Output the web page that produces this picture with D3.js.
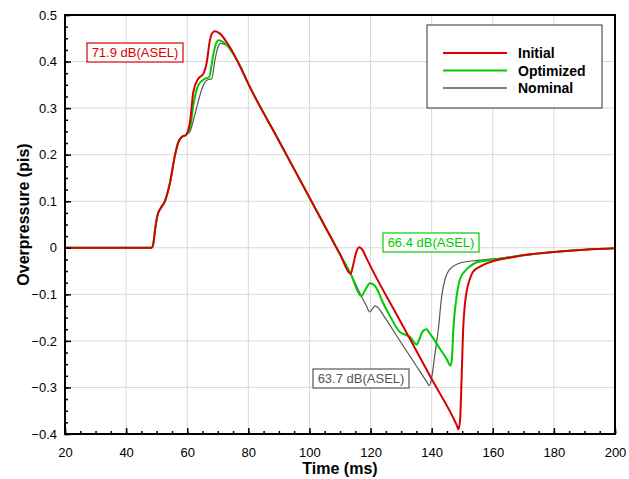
<!DOCTYPE html>
<meta charset="utf-8">
<style>
    body { margin: 0; background: #fff; }
    svg text { font-family: "Liberation Sans", Arial, Helvetica, sans-serif; }
    .line { fill: none; }
    .grid line { stroke: #d9d9d9; stroke-width: 1px; }
    .tick text { font-size: 13px; fill: #000; }
</style>
<body>
<script src="https://cdn.jsdelivr.net/npm/d3@7"></script>
<script>

// ---- data (time in ms, overpressure in pis) ----
var riseCommon = [[20,0],[48.3,0],[48.8,0.005],[49.5,0.04],[50.2,0.068],[51.3,0.085],[52.7,0.1],
    [54.4,0.141],[56,0.199],[57.1,0.227],[58.2,0.238],[59.5,0.242]];

var initialPeak = [[60.9,0.27],[62,0.335],[63.6,0.363],[65.3,0.374],[66.4,0.399],[67.4,0.445],
    [68.3,0.462],[69.1,0.465],[70.7,0.46],[72.9,0.442],[77.3,0.39]];
var optimizedPeak = [[60.9,0.256],[62,0.306],[63.6,0.349],[65.8,0.363],[67.2,0.367],[68.5,0.414],
    [69.5,0.44],[70.3,0.446],[71.8,0.442],[77.3,0.39]];
var nominalPeak = [[60.9,0.25],[63,0.299],[65,0.345],[66.4,0.36],[68,0.363],[69.1,0.404],
    [70,0.43],[70.9,0.439],[72.9,0.435],[77.3,0.39]];

var descentCommon = [[80,0.352],[90,0.23],[100,0.108],[110,-0.014],[113.5,-0.056]];

var initialTail = [[114.2,-0.04],[115.3,-0.01],[116.3,0.001],[117.3,-0.004],[118.5,-0.02],[120,-0.04],
    [130,-0.161],[140,-0.282],[148.2,-0.381],[148.8,-0.39],[149.3,-0.37],[149.8,-0.28],[150.3,-0.175],
    [150.9,-0.12],[151.5,-0.092],[152.5,-0.067],[153.5,-0.052],[156,-0.04],[160,-0.029],[165,-0.022]];
var optimizedTail = [[117,-0.104],[118.3,-0.09],[119.8,-0.076],[121.2,-0.08],[122.5,-0.094],[124,-0.117],
    [126.3,-0.146],[129.6,-0.181],[131.5,-0.187],[133,-0.192],[134.5,-0.205],[135.1,-0.208],[136,-0.196],
    [137,-0.18],[138.2,-0.175],[139.5,-0.185],[142.7,-0.217],[145,-0.24],[146.1,-0.253],[146.6,-0.24],
    [147.1,-0.174],[148.2,-0.103],[149.3,-0.067],[150.9,-0.05],[152.5,-0.04],[154.8,-0.031],
    [160,-0.026],[165,-0.021]];
var nominalTail = [[117,-0.104],[118.5,-0.123],[119.8,-0.138],[120.7,-0.13],[121.5,-0.125],[122.5,-0.129],
    [124,-0.143],[130,-0.204],[135,-0.254],[138.5,-0.289],[139.2,-0.296],[139.9,-0.283],[141,-0.232],
    [142.2,-0.174],[143.3,-0.103],[144.4,-0.067],[145.5,-0.05],[147,-0.04],[150.3,-0.031],[155,-0.027],
    [160,-0.024],[165,-0.02]];

var tailCommon = [[170,-0.016],[180,-0.009],[190,-0.004],[200,-0.001]];

var seriesNames = ["Initial", "Optimized", "Nominal"];
var seriesColors = ["#d90000", "#00cc00", "#555555"];
var aselLabels = ["71.9 dB(ASEL)", "66.4 dB(ASEL)", "63.7 dB(ASEL)"];
var xTicks = [20, 40, 60, 80, 100, 120, 140, 160, 180, 200];
var yTicks = [-0.4, -0.3, -0.2, -0.1, 0, 0.1, 0.2, 0.3, 0.4, 0.5];

var series = [
    riseCommon.concat(initialPeak, descentCommon, initialTail, tailCommon),
    riseCommon.concat(optimizedPeak, descentCommon, optimizedTail, tailCommon),
    riseCommon.concat(nominalPeak, descentCommon, nominalTail, tailCommon)
];

// ---- layout ----
var margin = {top: 15, right: 14, bottom: 45, left: 65},
    width = 629 - margin.left - margin.right,
    height = 479 - margin.top - margin.bottom;

var x = d3.scaleLinear().domain([20, 200]).range([0, width]);
var y = d3.scaleLinear().domain([-0.4, 0.5]).range([height, 0]);

var svg = d3.select("body").append("svg")
    .attr("width", 629)
    .attr("height", 479)
  .append("g")
    .attr("transform", "translate(" + margin.left + "," + margin.top + ")");

// grid
svg.append("g").attr("class", "grid")
    .selectAll("line").data(xTicks.slice(1, -1)).enter().append("line")
    .attr("x1", function (d) { return x(d); }).attr("x2", function (d) { return x(d); })
    .attr("y1", 0).attr("y2", height);
svg.append("g").attr("class", "grid")
    .selectAll("line").data(yTicks.slice(1, -1)).enter().append("line")
    .attr("y1", function (d) { return y(d); }).attr("y2", function (d) { return y(d); })
    .attr("x1", 0).attr("x2", width);

svg.append("defs").append("clipPath").attr("id", "clip")
  .append("rect").attr("width", width).attr("height", height);

// lines (nominal first, initial on top)
var line = d3.line()
    .x(function (d) { return x(d[0]); })
    .y(function (d) { return y(d[1]); })
    .curve(d3.curveMonotoneX);

[2, 1, 0].forEach(function (i) {
    svg.append("path")
        .datum(series[i])
        .attr("class", "line")
        .attr("clip-path", "url(#clip)")
        .attr("stroke", seriesColors[i])
        .attr("stroke-width", i == 2 ? 1.2 : 2)
        .attr("d", line);
});

// axes: ticks point inward
var xMinor = d3.range(20, 201, 5);
var yMinor = d3.range(-0.4, 0.5001, 0.025);

svg.append("g")
    .attr("transform", "translate(0," + height + ")")
    .call(d3.axisBottom(x).tickValues(xMinor).tickSize(-3).tickFormat(""))
    .call(function (g) { g.select(".domain").remove(); });
svg.append("g")
    .attr("transform", "translate(0," + height + ")")
    .call(d3.axisBottom(x).tickValues(xTicks).tickSize(-6).tickPadding(14).tickFormat(d3.format("d")))
    .call(function (g) { g.select(".domain").remove(); });

svg.append("g")
    .call(d3.axisLeft(y).tickValues(yMinor).tickSize(-3).tickFormat(""))
    .call(function (g) { g.select(".domain").remove(); });
svg.append("g")
    .call(d3.axisLeft(y).tickValues(yTicks).tickSize(-6).tickPadding(8)
        .tickFormat(function (d) { return d3.format(".1f")(d).replace("0.0", "0"); }))
    .call(function (g) { g.select(".domain").remove(); });

svg.selectAll(".tick line").attr("stroke", "#000").attr("stroke-width", 1.5);

// frame
svg.append("rect")
    .attr("width", width).attr("height", height)
    .attr("fill", "none").attr("stroke", "#000").attr("stroke-width", 2);

// axis titles
svg.append("text")
    .attr("x", width / 2).attr("y", height + 40)
    .attr("text-anchor", "middle")
    .style("font-size", "16px").style("font-weight", "bold")
    .text("Time (ms)");
svg.append("text")
    .attr("transform", "rotate(-90)")
    .attr("x", -height / 2 + 10).attr("y", -36)
    .attr("text-anchor", "middle")
    .style("font-size", "16px").style("font-weight", "bold")
    .text("Overpressure (pis)");

// ASEL annotations
var notePos = [[22, 28], [318, 218], [248, 354]];
aselLabels.forEach(function (d, i) {
    var g = svg.append("g").attr("transform", "translate(" + notePos[i][0] + "," + notePos[i][1] + ")");
    g.append("rect").attr("width", 96).attr("height", 19)
        .attr("fill", "#fff").attr("stroke", seriesColors[i]).attr("stroke-width", 1.2);
    g.append("text").attr("x", 48).attr("y", 14)
        .attr("text-anchor", "middle")
        .style("font-size", "13px").attr("fill", seriesColors[i])
        .text(d);
});

// legend
var lg = svg.append("g").attr("transform", "translate(362,10)");
lg.append("rect").attr("width", 175).attr("height", 83)
    .attr("fill", "#fff").attr("stroke", "#333").attr("stroke-width", 1);
var item = lg.selectAll(".legend").data(seriesNames).enter().append("g")
    .attr("class", "legend")
    .attr("transform", function (d, i) { return "translate(0," + (28 + i * 17.5) + ")"; });
item.append("line")
    .attr("x1", 16).attr("x2", 80)
    .attr("stroke", function (d, i) { return seriesColors[i]; })
    .attr("stroke-width", function (d, i) { return i == 2 ? 1.5 : 2; });
item.append("text")
    .attr("x", 91).attr("y", 5)
    .style("font-size", "14px").style("font-weight", "bold")
    .text(function (d) { return d; });

</script>
</body>
